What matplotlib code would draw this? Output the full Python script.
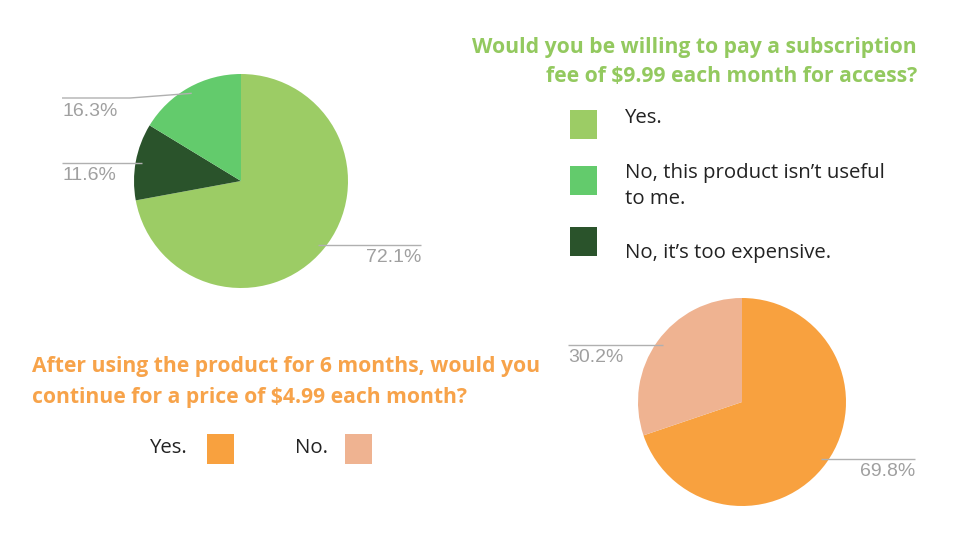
import numpy as np
import matplotlib
matplotlib.use("Agg")
import matplotlib.pyplot as plt

# ---- data ----
q1_title = "Would you be willing to pay a subscription\nfee of $9.99 each month for access?"
q1_categories = ["Yes.", "No, it\u2019s too expensive.", "No, this product isn\u2019t useful\nto me."]
q1_values = [72.1, 11.6, 16.3]
q1_legend_order = [0, 2, 1]

q2_title = "After using the product for 6 months, would you\ncontinue for a price of $4.99 each month?"
q2_categories = ["Yes.", "No."]
q2_values = [69.8, 30.2]

# ---- style ----
green_title = "#93c95f"
orange_title = "#f7a34a"
q1_colors = ["#9ccc65", "#2a532b", "#63cb6c"]
q2_colors = ["#f8a13f", "#efb391"]
label_grey = "#a0a0a0"
line_grey = "#b0b0b0"
W, H = 960, 540

fig = plt.figure(figsize=(9.6, 5.4), dpi=100)
fig.patch.set_facecolor("white")

def pie_axes(cx, cy, r):
    return fig.add_axes([(cx - r) / W, 1 - (cy + r) / H, 2 * r / W, 2 * r / H])

def draw_pie(cx, cy, r, values, colors):
    ax = pie_axes(cx, cy, r)
    ax.pie(values, colors=colors, startangle=90, counterclock=False,
           wedgeprops=dict(linewidth=0), radius=1.0)
    ax.set_xlim(-1, 1); ax.set_ylim(-1, 1)
    ax.set_aspect("equal"); ax.axis("off")
    total = float(sum(values))
    mids = []
    start = 90.0
    for v in values:
        span = 360.0 * v / total
        mids.append(start - span / 2)
        start -= span
    return mids

ov = fig.add_axes([0, 0, 1, 1], zorder=10)
ov.set_xlim(0, W); ov.set_ylim(H, 0); ov.axis("off"); ov.patch.set_alpha(0)

def draw_labels(cx, cy, r, values, mids, specs):
    for v, m, (tx, ha, ty, elbow) in zip(values, mids, specs):
        ax_ = cx + 0.94 * r * np.cos(np.radians(m))
        ay_ = cy - 0.94 * r * np.sin(np.radians(m))
        if elbow is None:
            xs, ys = [ax_, tx], [ay_, ay_]
        else:
            ex, ey = elbow
            xs, ys = [ax_, ex, tx], [ay_, ey, ey]
        ov.plot(xs, ys, color=line_grey, lw=1.0, solid_capstyle="butt")
        ov.text(tx, ty, f"{v:.1f}%", ha=ha, va="center", color=label_grey,
                fontsize=14, family="Liberation Sans")

# top pie
c1 = (241, 181, 107)
m1 = draw_pie(*c1, q1_values, q1_colors)
draw_labels(*c1, q1_values, m1, [
    (421, "right", 258, None),
    (62, "left", 175, None),
    (62, "left", 111, (130, 98)),
])

# bottom pie
c2 = (742, 402, 104)
m2 = draw_pie(*c2, q2_values, q2_colors)
draw_labels(*c2, q2_values, m2, [
    (915, "right", 471, None),
    (568, "left", 357, None),
])

title_font = dict(family="Open Sans", fontweight="bold", fontsize=15.2)
ov.text(917, 62, q1_title, ha="right", va="center", color=green_title,
        linespacing=1.55, **title_font)
ov.text(32, 382, q2_title, ha="left", va="center", color=orange_title,
        linespacing=1.58, **title_font)

# q1 legend
sq_y = [124, 180, 241]
txt_y = [118, 186, 253]
for k, idx in enumerate(q1_legend_order):
    ov.add_patch(plt.Rectangle((570, sq_y[k] - 14.5), 27, 29, color=q1_colors[idx], lw=0))
    ov.text(625, txt_y[k], q1_categories[idx], ha="left", va="center",
            color="#222222", fontsize=14.7, family="Open Sans", linespacing=1.4)

# q2 legend
leg2_text_x = [150, 295]
leg2_sq_x = [207, 345]
for k in range(len(q2_categories)):
    ov.text(leg2_text_x[k], 448, q2_categories[k], ha="left", va="center",
            color="#222222", fontsize=14.7, family="Open Sans")
    ov.add_patch(plt.Rectangle((leg2_sq_x[k], 434), 27, 30, color=q2_colors[k], lw=0))

fig.savefig("out.png", dpi=100, facecolor="white")
